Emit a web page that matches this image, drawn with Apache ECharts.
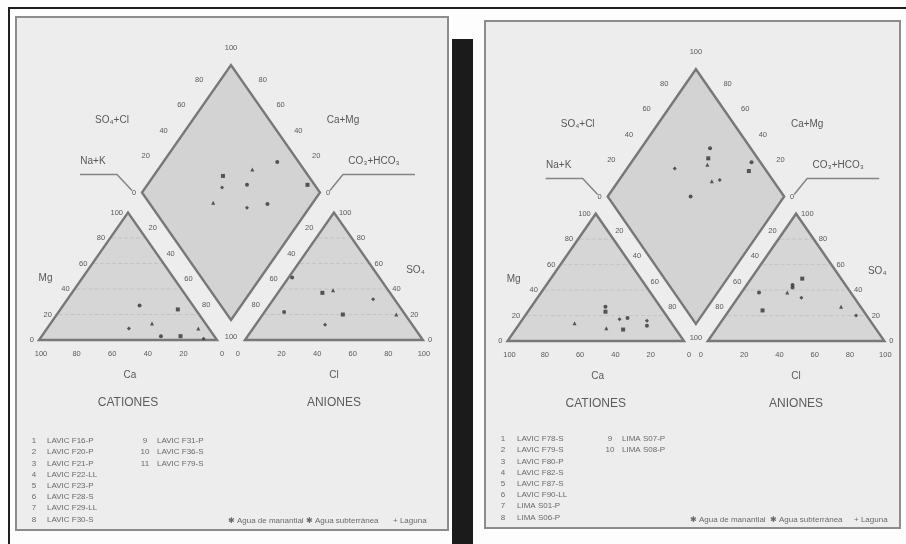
<!DOCTYPE html>
<html>
<head>
<meta charset="utf-8">
<script src="https://cdn.jsdelivr.net/npm/echarts@6/dist/echarts.min.js"></script>
<style>
  html, body { margin: 0; padding: 0; background: #ffffff; }
  #chart { width: 906px; height: 544px; }
</style>
</head>
<body>
<div id="chart"></div>
<script>
// ---------- tick values ----------
const edgeTicks = [0, 20, 40, 60, 80, 100];
const diamondTicks = [20, 40, 60, 80];
const stripTicks = [20, 40, 60, 80];
const guideLevels = [20, 40, 60, 80];

// ---------- panel 1: samples (meq %) ----------
const namesA = ['LAVIC F16-P', 'LAVIC F20-P', 'LAVIC F21-P', 'LAVIC F22-LL', 'LAVIC F23-P',
                'LAVIC F28-S', 'LAVIC F29-LL', 'LAVIC F30-S', 'LAVIC F31-P', 'LAVIC F36-S', 'LAVIC F79-S'];
const catCaA  = [30, 10, 30, 45, 30, 19, 6, 7];
const catMgA  = [27, 24, 13, 9, 3, 3, 9, 1];
const catNaKA = [43, 66, 57, 46, 67, 78, 85, 92];
const anHCO3A = [49, 38, 31, 12, 67, 35, 5, 49];
const anSO4A  = [49, 37, 39, 32, 22, 20, 20, 12];
const anClA   = [2, 25, 30, 56, 11, 45, 75, 39];
const diaNaKA   = [64, 39, 53, 43, 56, 90, 44, 65, 75];
const diaSO4ClA = [88, 52, 71, 47, 62, 96, 36, 53, 66];
const keyA = ['\u2731 Agua de manantial', '\u2731 Agua subterr\u00e1nea', '+ Laguna'];

// ---------- panel 2: samples (meq %) ----------
const namesB = ['LAVIC F78-S', 'LAVIC F79-S', 'LAVIC F80-P', 'LAVIC F82-S', 'LAVIC F87-S',
                'LAVIC F90-LL', 'LIMA S01-P', 'LIMA S06-P', 'LIMA S07-P', 'LIMA S08-P'];
const catCaB  = [31, 33, 55, 28, 23, 30, 39, 13, 15];
const catMgB  = [27, 23, 14, 17, 18, 9, 10, 16, 12];
const catNaKB = [42, 44, 31, 55, 59, 61, 51, 71, 73];
const anHCO3B = [31, 22, 36, 30, 52, 57, 11, 6, 30];
const anSO4B  = [42, 49, 38, 34, 38, 24, 27, 20, 44];
const anClB   = [27, 29, 26, 36, 10, 19, 62, 74, 26];
const diaNaKB   = [39, 42, 44, 27, 68, 70, 53, 57, 47];
const diaSO4ClB = [77, 72, 69, 49, 95, 90, 65, 70, 47];
const keyB = ['\u2731 Agua de manantial', '\u2731 Agua subterr\u00e1nea', '+ Laguna'];

// ---------- Piper geometry (side = 100, equilateral units) ----------
const H = Math.sqrt(3) / 2;
function catXY(mg, naK) { return [naK + mg / 2, mg * H]; }
function anXY(g, so4, cl) { return [100 + g + cl + so4 / 2, so4 * H]; }
function diaXY(g, naK, so4cl) {
  const a = 100 - naK, c = so4cl;
  return [100 + g / 2 + (c - a) / 2, H * (g + a + c)];
}

const FONT = '"Liberation Sans", Arial, "DejaVu Sans", sans-serif';
const INK = '#5a5a5a';

// Panel layout: frame box in px, pixel position of the cation triangle's Ca corner,
// pixels per unit, and the gap between the two triangles (units).
const panels = [
  { frame: [16, 17, 448, 530], origin: [39, 340], scale: [1.78, 1.472], gap: 15.7,
    cat: [catCaA, catMgA, catNaKA], an: [anHCO3A, anSO4A, anClA], dia: [diaNaKA, diaSO4ClA] },
  { frame: [485, 21, 900, 528], origin: [507.5, 341], scale: [1.765, 1.47], gap: 13.5,
    cat: [catCaB, catMgB, catNaKB], an: [anHCO3B, anSO4B, anClB], dia: [diaNaKB, diaSO4ClB] }
];

function frameRenderer(g) {
  const B = [100 + g / 2, g * H];
  const L = [50 + g / 2, (g + 100) * H];
  const T = [100 + g / 2, (g + 200) * H];
  const R = [150 + g / 2, (g + 100) * H];
  const triC = [[0, 0], [100, 0], [50, 100 * H]];
  const triA = [[100 + g, 0], [200 + g, 0], [150 + g, 100 * H]];
  return function (params, api) {
    const c = p => api.coord(p);
    const off = (p, dx, dy) => { const q = api.coord(p); return [q[0] + dx, q[1] + dy]; };
    const kids = [];
    const shape = (pts, fill) => ({
      type: 'polygon', shape: { points: pts.map(c) },
      style: { fill: fill, stroke: '#787878', lineWidth: 2.4, lineJoin: 'miter' }
    });
    const seg = (p, q, st) => ({ type: 'line', shape: { x1: p[0], y1: p[1], x2: q[0], y2: q[1] }, style: st });
    const txt = (s, q, extra) => ({
      type: 'text', x: q[0], y: q[1],
      style: Object.assign({ text: s, fill: INK, fontSize: 7.5, fontFamily: FONT,
                             align: 'center', verticalAlign: 'middle' }, extra || {})
    });

    kids.push(shape(triC, '#d6d6d6'));
    kids.push(shape(triA, '#d6d6d6'));
    kids.push(shape([B, R, T, L], '#d3d3d3'));

    // faint guide lines inside the triangles
    const guide = { stroke: '#bfbfbf', lineWidth: 0.8, lineDash: [4, 2] };
    guideLevels.forEach(v => {
      kids.push(seg(c([v / 2 + 1, v * H]), c([100 - v / 2 - 1, v * H]), guide));
      kids.push(seg(c([100 + g + v / 2 + 1, v * H]), c([200 + g - v / 2 - 1, v * H]), guide));
    });

    // Mg along the left edge of the cation triangle
    edgeTicks.forEach(v => kids.push(txt(String(v), off([v / 2, v * H], -5, 0), { align: 'right' })));
    // Ca along the cation base
    edgeTicks.forEach(v => kids.push(txt(String(v), off([100 - v, 0], v === 0 ? 5 : 2, 14))));
    // Cl along the anion base
    edgeTicks.forEach(v => kids.push(txt(String(v), off([100 + g + v, 0], v === 0 ? -7 : 1, 14))));
    // SO4 along the right edge of the anion triangle
    edgeTicks.forEach(v => kids.push(txt(String(v), off([200 + g - v / 2, v * H], 5, 0), { align: 'left' })));
    // Na+K and CO3+HCO3 in the strips beside the diamond
    stripTicks.forEach(v => {
      kids.push(txt(String(v), c([50 + g / 4 + v / 2, H * (g / 2 + 100 - v)])));
      kids.push(txt(String(v), c([150 + 3 * g / 4 - v / 2, H * (g / 2 + 100 - v)])));
    });
    kids.push(txt('100', off([100 + g / 2, 0], 0, -3)));
    kids.push(txt('0', off(L, -8, 0)));
    kids.push(txt('0', off(R, 8, 0)));
    // SO4+Cl and Ca+Mg on the upper edges of the diamond
    diamondTicks.forEach(v => {
      kids.push(txt(String(v), off([50 + g / 2 + v / 2, H * (g + 100 + v)], -14, -11)));
      kids.push(txt(String(v), off([150 + g / 2 - v / 2, H * (g + 100 + v)], 14, -11)));
    });
    kids.push(txt('100', off(T, 0, -17)));

    // pointer lines for Na+K and CO3+HCO3
    const pl = { stroke: '#858585', lineWidth: 1.5, fill: null };
    kids.push({ type: 'polyline', shape: { points: [off(L, -62, -18), off(L, -25, -18), off(L, -10, -2)] }, style: pl });
    kids.push({ type: 'polyline', shape: { points: [off(R, 10, -2), off(R, 23, -18), off(R, 95, -18)] }, style: pl });

    // axis names
    const nm = { fontSize: 10, fill: '#585858' };
    kids.push(txt('Mg', off([25, 50 * H], -38, 2), nm));
    kids.push(txt('SO\u2084', off([175 + g, 50 * H], 37, -6), nm));
    kids.push(txt('Ca', off([50, 0], 2, 35), nm));
    kids.push(txt('Cl', off([150 + g, 0], 0, 35), nm));
    kids.push(txt('SO\u2084+Cl', off(L, -30, -72), nm));
    kids.push(txt('Ca+Mg', off(R, 23, -72), nm));
    kids.push(txt('Na+K', off(L, -49, -31), nm));
    kids.push(txt('CO\u2083+HCO\u2083', off(R, 54, -31), nm));
    const ttl = { fontSize: 12, fill: '#5c5c5c' };
    kids.push(txt('CATIONES', off([50, 0], 0, 63), ttl));
    kids.push(txt('ANIONES', off([150 + g, 0], 0, 63), ttl));

    return { type: 'group', children: kids };
  };
}

const markShapes = ['circle', 'rect', 'triangle', 'diamond'];
const grids = [], xAxes = [], yAxes = [], series = [];

panels.forEach((p, i) => {
  const [x1, y1, x2, y2] = p.frame;
  const [ox, oy] = p.origin;
  const [sx, sy] = p.scale;
  grids.push({ left: x1, top: y1, width: x2 - x1, height: y2 - y1, show: true,
               backgroundColor: '#ededed', borderColor: '#8c8c8c', borderWidth: 2 });
  xAxes.push({ gridIndex: i, type: 'value', min: (x1 - ox) / sx, max: (x2 - ox) / sx, show: false });
  yAxes.push({ gridIndex: i, type: 'value', min: (oy - y2) / sy, max: (oy - y1) / sy, show: false });

  series.push({ type: 'custom', xAxisIndex: i, yAxisIndex: i, data: [[0, 0]], z: 1, silent: true,
                renderItem: frameRenderer(p.gap) });

  const [ca, mg, naK] = p.cat;
  const [hco3, so4, cl] = p.an;
  const [dNaK, dSO4Cl] = p.dia;
  const pts = [
    ca.map((_, k) => catXY(mg[k], naK[k])),
    hco3.map((_, k) => anXY(p.gap, so4[k], cl[k])),
    dNaK.map((_, k) => diaXY(p.gap, dNaK[k], dSO4Cl[k]))
  ];
  pts.forEach(list => {
    series.push({
      type: 'scatter', xAxisIndex: i, yAxisIndex: i, z: 3, silent: true,
      data: list.map((v, k) => ({ value: v, symbol: markShapes[k % markShapes.length] })),
      symbolSize: 4,
      itemStyle: { color: '#3c3c3c', opacity: 0.85 }
    });
  });
});

// sample keys and type keys under each diagram
function keyBlock(names, key, colX, numX, rowY, typeX, typeY) {
  const out = [];
  const style = (s, x, y, align) => ({ type: 'text', x: x, y: y,
    style: { text: s, fill: '#6a6a6a', fontSize: 8, fontFamily: FONT, align: align, verticalAlign: 'middle' } });
  names.forEach((n, k) => {
    const col = k < 8 ? 0 : 1;
    const row = k < 8 ? k : k - 8;
    const y = rowY + row * 11.2;
    out.push(style(String(k + 1), numX[col], y, 'center'));
    out.push(style(n, colX[col], y, 'left'));
  });
  key.forEach((s, k) => out.push(style(s, typeX[k], typeY, 'left')));
  return out;
}

const graphics = [
  { type: 'line', shape: { x1: 8, y1: 8, x2: 906, y2: 8 }, style: { stroke: '#1e1e1e', lineWidth: 2 } },
  { type: 'line', shape: { x1: 9, y1: 8, x2: 9, y2: 544 }, style: { stroke: '#1e1e1e', lineWidth: 2 } },
  { type: 'rect', shape: { x: 452, y: 39, width: 21, height: 505 }, style: { fill: '#1b1b1b' } }
].concat(
  keyBlock(namesA, keyA, [47, 157], [34, 145], 441, [228, 306, 393], 521),
  keyBlock(namesB, keyB, [517, 622], [503, 610], 439, [690, 770, 854], 520)
);

const chart = echarts.init(document.getElementById('chart'), null, { renderer: 'canvas', width: 906, height: 544 });
chart.setOption({
  animation: false,
  backgroundColor: '#fdfdfd',
  grid: grids,
  xAxis: xAxes,
  yAxis: yAxes,
  series: series,
  graphic: graphics
});
</script>
</body>
</html>
